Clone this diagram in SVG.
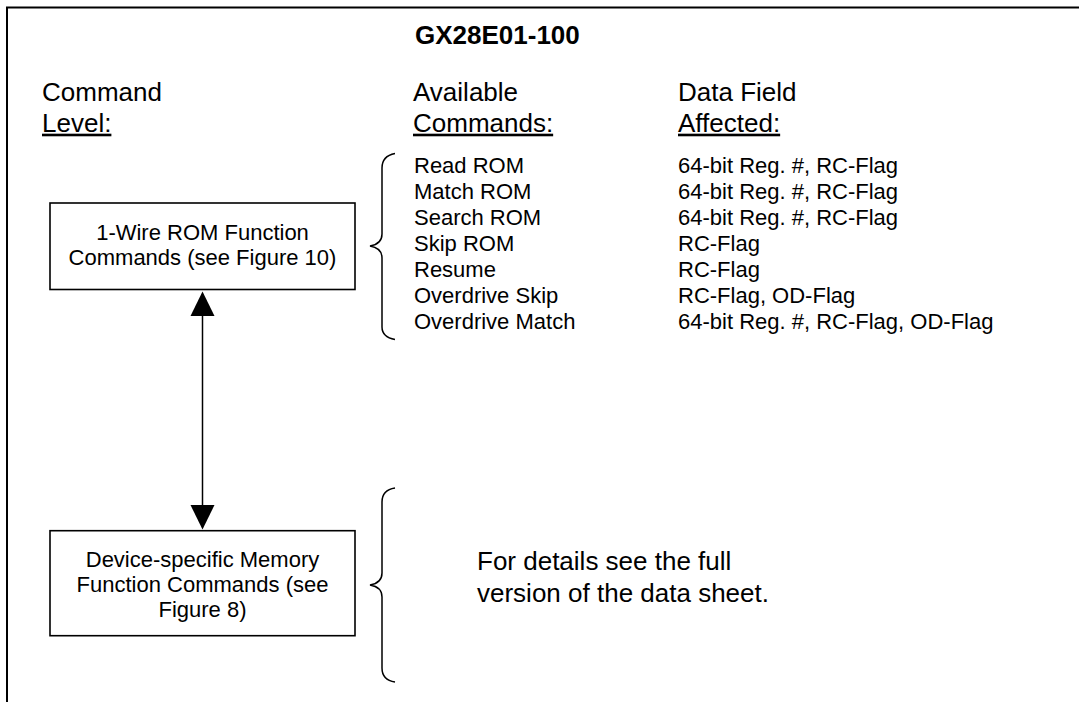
<svg xmlns="http://www.w3.org/2000/svg" width="1079" height="702" viewBox="0 0 1079 702">
<defs>
<style>
text{font-family:"Liberation Sans",Arial,sans-serif;fill:#000}
.title{font-size:26px;font-weight:bold}
.hdr{font-size:26px}
.u{text-decoration:underline}
.lst{font-size:22px}
.box{font-size:22px;text-anchor:middle}
.note{font-size:26px}
.node rect{fill:#fff;stroke:#000;stroke-width:1.6}
.brace{fill:none;stroke:#000;stroke-width:1.5}
.conn line{stroke:#000;stroke-width:1.5}
.conn polygon{fill:#000}
</style>
</defs>
<rect x="0" y="0" width="1079" height="702" fill="#fff"/>
<path id="frame" d="M7,702 V7.5 H1079" fill="none" stroke="#000" stroke-width="2"/>

<text class="title" x="415" y="44">GX28E01-100</text>

<g id="headers">
<text class="hdr" x="42" y="100.7">Command</text>
<text class="hdr u" x="42" y="131.7">Level:</text>
<text class="hdr" x="413" y="100.7">Available</text>
<text class="hdr u" x="413" y="131.7">Commands:</text>
<text class="hdr" x="678" y="100.7">Data Field</text>
<text class="hdr u" x="678" y="131.7">Affected:</text>
</g>

<g id="rom-commands">
<text class="lst" x="414" y="173.3">Read ROM</text>
<text class="lst" x="414" y="199.3">Match ROM</text>
<text class="lst" x="414" y="225.3">Search ROM</text>
<text class="lst" x="414" y="251.3">Skip ROM</text>
<text class="lst" x="414" y="277.3">Resume</text>
<text class="lst" x="414" y="303.3">Overdrive Skip</text>
<text class="lst" x="414" y="329.3">Overdrive Match</text>
<text class="lst" x="678" y="173.3">64-bit Reg. #, RC-Flag</text>
<text class="lst" x="678" y="199.3">64-bit Reg. #, RC-Flag</text>
<text class="lst" x="678" y="225.3">64-bit Reg. #, RC-Flag</text>
<text class="lst" x="678" y="251.3">RC-Flag</text>
<text class="lst" x="678" y="277.3">RC-Flag</text>
<text class="lst" x="678" y="303.3">RC-Flag, OD-Flag</text>
<text class="lst" x="678" y="329.3">64-bit Reg. #, RC-Flag, OD-Flag</text>
</g>

<path id="brace-rom" class="brace" d="M395,153.5 Q382,156 382,168 V234 Q382,244 370,246 Q382,248 382,258 V327 Q382,337 395,339.5"/>
<path id="brace-mem" class="brace" d="M395,488 Q382,490 382,502 V573 Q382,583 370,585 Q382,587 382,597 V668 Q382,680 395,682"/>

<g id="node-rom" class="node">
<rect x="50" y="203" width="305" height="86.5"/>
<text class="box" x="202.5" y="240">1-Wire ROM Function</text>
<text class="box" x="202.5" y="265">Commands (see Figure 10)</text>
</g>

<g id="node-memory" class="node">
<rect x="50" y="530.7" width="305" height="105"/>
<text class="box" x="202.5" y="566.7">Device-specific Memory</text>
<text class="box" x="202.5" y="591.7">Function Commands (see</text>
<text class="box" x="202.5" y="616.7">Figure 8)</text>
</g>

<g id="connectors" class="conn">
<line x1="202.5" y1="315" x2="202.5" y2="506"/>
<polygon points="202.5,291.5 214.5,316 190.5,316"/>
<polygon points="202.5,529.5 214.5,505 190.5,505"/>
</g>

<g id="note">
<text class="note" x="477" y="570">For details see the full</text>
<text class="note" x="477" y="601.7">version of the data sheet.</text>
</g>
</svg>
